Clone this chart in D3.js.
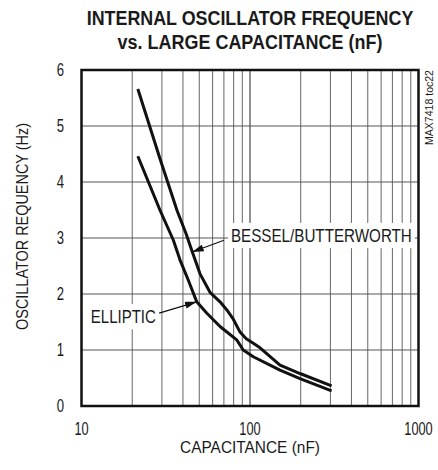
<!DOCTYPE html>
<html>
<head>
<meta charset="utf-8">
<script src="https://cdn.jsdelivr.net/npm/d3@7"></script>
<style>
  body { margin: 0; background: #fff; }
  text { font-family: "Liberation Sans", Arial, sans-serif; fill: #1a1a1a; }
</style>
</head>
<body>
<div id="chart"></div>
<script>
// capacitance (nF) vs oscillator frequency (Hz)
var besselCap  = [21.6, 29.2, 36.9, 41.7, 45.1, 50.5, 57.9, 66.4, 72.7, 79.6, 87.3, 95, 104.6, 114.7, 150.7, 198, 305]
var besselFreq = [5.66, 4.42, 3.49, 3.08, 2.78, 2.36, 2.03, 1.86, 1.72, 1.55, 1.32, 1.2, 1.12, 1.04, 0.73, 0.58, 0.36]

var ellipticCap  = [21.6, 29.2, 35.1, 38.4, 43.0, 48.3, 55.3, 66.4, 83.4, 91.2, 104.6, 150.7, 198, 305]
var ellipticFreq = [4.46, 3.5, 2.96, 2.61, 2.25, 1.86, 1.66, 1.42, 1.18, 1.0, 0.88, 0.64, 0.49, 0.27]

var xTicks = [10, 100, 1000]
var yTicks = [0, 1, 2, 3, 4, 5, 6]
var xGrid = [20, 30, 40, 50, 60, 70, 80, 90, 100, 200, 300, 400, 500, 600, 700, 800, 900]
var yGrid = [1, 2, 3, 4, 5]

// labels: text anchor point, arrow tail, arrow tip (data coords)
var labels = [
  { text: 'BESSEL/BUTTERWORTH', at: [77.1, 2.93], anchor: 'start', len: 181, tail: [70.1, 2.96], tip: [45.3, 2.75] },
  { text: 'ELLIPTIC', at: [27.6, 1.48], anchor: 'end', len: 65, tail: [28.9, 1.66], tip: [48.3, 1.86] }
]

var width = 438
var height = 470
var margin = { top: 70, right: 19.5, bottom: 64, left: 81.5 }
var w = width - margin.left - margin.right
var h = height - margin.top - margin.bottom

// the original uses a narrow face: draw normal text and squeeze it
// horizontally with a scale so it ends up len px wide
function label(parent, str, px, py, o) {
    var holder = parent.append('g')
        .attr('transform', 'translate(' + px + ',' + py + ')' + (o.rotate ? ' rotate(' + o.rotate + ')' : ''))
    var t = holder.append('text')
        .attr('text-anchor', o.anchor || 'middle')
        .attr('font-size', o.size)
        .attr('font-weight', o.weight || 'normal')
        .attr('dy', o.dy || 0)
        .text(str)
    var k = o.len / t.node().getComputedTextLength()
    t.attr('transform', 'scale(' + k + ',1)')
    return holder
}

var svg = d3.select('#chart').append('svg')
    .attr('width', width)
    .attr('height', height)

svg.append('defs').append('marker')
    .attr('id', 'arrow')
    .attr('viewBox', '0 0 10 6')
    .attr('refX', 10)
    .attr('refY', 3)
    .attr('markerWidth', 12)
    .attr('markerHeight', 7)
    .attr('markerUnits', 'userSpaceOnUse')
    .attr('orient', 'auto')
    .append('path')
    .attr('d', 'M0,0 L10,3 L0,6 Z')
    .attr('fill', '#111')

var g = svg.append('g').attr('transform', 'translate(' + margin.left + ',' + margin.top + ')')

var x = d3.scaleLog().domain([10, 1000]).range([0, w])
var y = d3.scaleLinear().domain([0, 6]).range([h, 0])

// grid
g.append('g').selectAll('line').data(xGrid).enter().append('line')
    .attr('x1', function (d) { return x(d) })
    .attr('x2', function (d) { return x(d) })
    .attr('y1', 0)
    .attr('y2', h)
    .attr('stroke', function (d) { return d === 100 ? '#222' : '#666' })
    .attr('stroke-width', 1)

g.append('g').selectAll('line').data(yGrid).enter().append('line')
    .attr('x1', 0)
    .attr('x2', w)
    .attr('y1', function (d) { return y(d) })
    .attr('y2', function (d) { return y(d) })
    .attr('stroke', '#555')
    .attr('stroke-width', 1)

// tick labels
yTicks.forEach(function (d) {
    label(g, d, -17.5, y(d), { anchor: 'end', size: 18, dy: '0.36em', len: 7.3 })
})
xTicks.forEach(function (d) {
    label(g, d, x(d), h + 29, { size: 18, len: String(d).length * 7.1 })
})

// curves
var line = d3.line()
    .x(function (d) { return x(d[0]) })
    .y(function (d) { return y(d[1]) })

var series = [
  d3.zip(besselCap, besselFreq),
  d3.zip(ellipticCap, ellipticFreq)
]

g.selectAll('path.curve').data(series).enter().append('path')
    .attr('class', 'curve')
    .attr('d', line)
    .attr('fill', 'none')
    .attr('stroke', '#111')
    .attr('stroke-width', 3)
    .attr('stroke-linejoin', 'round')

// labels with white boxes and arrows
labels.forEach(function (l) {
    var lg = label(g, l.text, x(l.at[0]), y(l.at[1]), { anchor: l.anchor, size: 17.5, len: l.len })
    var bb = lg.node().getBBox()
    lg.insert('rect', 'text')
        .attr('x', bb.x - 3)
        .attr('y', bb.y - 3)
        .attr('width', bb.width + 6)
        .attr('height', bb.height + 6)
        .attr('fill', '#fff')
    g.append('line')
        .attr('x1', x(l.tail[0]))
        .attr('y1', y(l.tail[1]))
        .attr('x2', x(l.tip[0]))
        .attr('y2', y(l.tip[1]))
        .attr('stroke', '#111')
        .attr('stroke-width', 1.3)
        .attr('marker-end', 'url(#arrow)')
})

// frame
g.append('rect')
    .attr('width', w)
    .attr('height', h)
    .attr('fill', 'none')
    .attr('stroke', '#111')
    .attr('stroke-width', 2.5)

// titles
label(svg, 'INTERNAL OSCILLATOR FREQUENCY', margin.left + w / 2, 25, { size: 20.5, weight: 'bold', len: 327 })
label(svg, 'vs. LARGE CAPACITANCE (nF)', margin.left + w / 2, 48.5, { size: 20.5, weight: 'bold', len: 265 })
label(svg, 'CAPACITANCE (nF)', margin.left + w / 2, 453, { size: 17, len: 140 })
label(svg, 'OSCILLATOR REQUENCY (Hz)', 28, 226.5, { size: 17, len: 207, rotate: -90 })
label(svg, 'MAX7418 toc22', 433, 107.5, { size: 11, len: 75, rotate: -90 })
</script>
</body>
</html>
